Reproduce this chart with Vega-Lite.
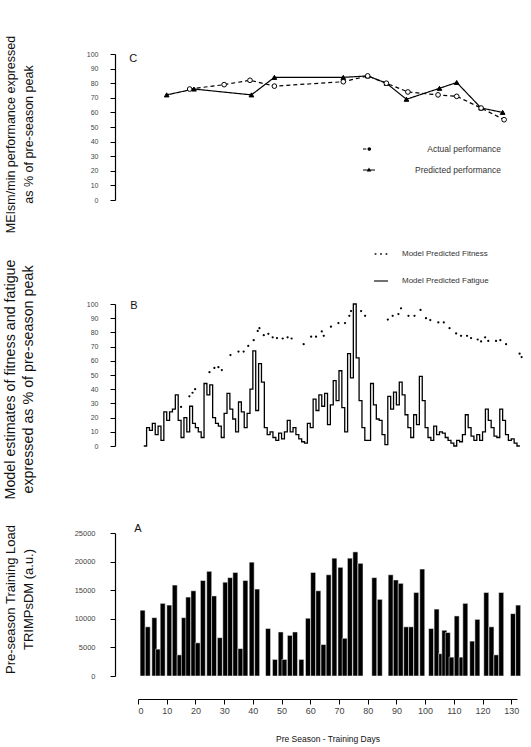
{
  "$schema": "https://vega.github.io/schema/vega-lite/v6.json",
  "background": "white",
  "padding": {"left": 3, "top": 35, "right": 5, "bottom": 5},
  "config": {
    "view": {"stroke": null},
    "font": "Liberation Sans",
    "axis": {"grid": false, "domainColor": "black", "tickColor": "black", "domainWidth": 1.2, "tickWidth": 1, "labelColor": "#444", "titleColor": "#111", "labelFont": "Liberation Sans", "titleFont": "Liberation Sans", "titleFontWeight": "normal", "labelOverlap": false, "labelBound": false},
    "legend": {"labelFont": "Liberation Sans", "labelColor": "#333"},
    "text": {"font": "Liberation Sans", "fontSize": 11, "color": "#111"}
  },
  "datasets": {
    "perf": [
      {"day": 10, "value": 72, "series": "Predicted performance"},
      {"day": 19.5, "value": 76, "series": "Predicted performance"},
      {"day": 39.5, "value": 72, "series": "Predicted performance"},
      {"day": 47.5, "value": 84, "series": "Predicted performance"},
      {"day": 71.5, "value": 84, "series": "Predicted performance"},
      {"day": 80, "value": 85, "series": "Predicted performance"},
      {"day": 86.5, "value": 80, "series": "Predicted performance"},
      {"day": 93.5, "value": 69, "series": "Predicted performance"},
      {"day": 105, "value": 76.5, "series": "Predicted performance"},
      {"day": 111, "value": 80.5, "series": "Predicted performance"},
      {"day": 119.5, "value": 63, "series": "Predicted performance"},
      {"day": 127, "value": 60, "series": "Predicted performance"},
      {"day": 18, "value": 76, "series": "Actual performance"},
      {"day": 30, "value": 79, "series": "Actual performance"},
      {"day": 39, "value": 82, "series": "Actual performance"},
      {"day": 47.5, "value": 78, "series": "Actual performance"},
      {"day": 71.5, "value": 81, "series": "Actual performance"},
      {"day": 80, "value": 85, "series": "Actual performance"},
      {"day": 86.5, "value": 80, "series": "Actual performance"},
      {"day": 94, "value": 74, "series": "Actual performance"},
      {"day": 104.5, "value": 72, "series": "Actual performance"},
      {"day": 111, "value": 71, "series": "Actual performance"},
      {"day": 119.5, "value": 63, "series": "Actual performance"},
      {"day": 127.5, "value": 55, "series": "Actual performance"}
    ],
    "fatigue": [
      {"day": 2, "value": 0}, {"day": 3, "value": 13}, {"day": 4, "value": 11}, {"day": 5, "value": 16}, {"day": 6, "value": 8},
      {"day": 7, "value": 14}, {"day": 8, "value": 4}, {"day": 9, "value": 24}, {"day": 10, "value": 18}, {"day": 11, "value": 24},
      {"day": 12, "value": 26}, {"day": 13, "value": 36}, {"day": 14, "value": 18}, {"day": 15, "value": 6}, {"day": 16, "value": 20},
      {"day": 17, "value": 10}, {"day": 18, "value": 28}, {"day": 19, "value": 16}, {"day": 20, "value": 13}, {"day": 21, "value": 10},
      {"day": 22, "value": 6}, {"day": 23, "value": 44}, {"day": 24, "value": 36}, {"day": 25, "value": 43}, {"day": 26, "value": 20},
      {"day": 27, "value": 16}, {"day": 28, "value": 14}, {"day": 29, "value": 6}, {"day": 30, "value": 23}, {"day": 31, "value": 37},
      {"day": 32, "value": 26}, {"day": 33, "value": 19}, {"day": 34, "value": 10}, {"day": 35, "value": 31}, {"day": 36, "value": 24},
      {"day": 37, "value": 13}, {"day": 38, "value": 23}, {"day": 39, "value": 40}, {"day": 40, "value": 67}, {"day": 41, "value": 25},
      {"day": 42, "value": 58}, {"day": 43, "value": 45}, {"day": 44, "value": 13}, {"day": 45, "value": 8}, {"day": 46, "value": 10},
      {"day": 47, "value": 6}, {"day": 48, "value": 4}, {"day": 49, "value": 9}, {"day": 50, "value": 5}, {"day": 51, "value": 10},
      {"day": 52, "value": 18}, {"day": 53, "value": 10}, {"day": 54, "value": 13}, {"day": 55, "value": 8}, {"day": 56, "value": 5},
      {"day": 57, "value": 3}, {"day": 58, "value": 2}, {"day": 59, "value": 16}, {"day": 60, "value": 13}, {"day": 61, "value": 33},
      {"day": 62, "value": 25}, {"day": 63, "value": 36}, {"day": 64, "value": 28}, {"day": 65, "value": 37}, {"day": 66, "value": 15},
      {"day": 67, "value": 29}, {"day": 68, "value": 46}, {"day": 69, "value": 32}, {"day": 70, "value": 53}, {"day": 71, "value": 27},
      {"day": 72, "value": 10}, {"day": 73, "value": 65}, {"day": 74, "value": 48}, {"day": 75, "value": 100}, {"day": 76, "value": 62},
      {"day": 77, "value": 32}, {"day": 78, "value": 13}, {"day": 79, "value": 4}, {"day": 80, "value": 4}, {"day": 81, "value": 44},
      {"day": 82, "value": 29}, {"day": 83, "value": 19}, {"day": 84, "value": 18}, {"day": 85, "value": 8}, {"day": 86, "value": 1},
      {"day": 87, "value": 35}, {"day": 88, "value": 26}, {"day": 89, "value": 38}, {"day": 90, "value": 29}, {"day": 91, "value": 45},
      {"day": 92, "value": 36}, {"day": 93, "value": 22}, {"day": 94, "value": 13}, {"day": 95, "value": 6}, {"day": 96, "value": 22},
      {"day": 97, "value": 15}, {"day": 98, "value": 49}, {"day": 99, "value": 32}, {"day": 100, "value": 13}, {"day": 101, "value": 6},
      {"day": 102, "value": 4}, {"day": 103, "value": 14}, {"day": 104, "value": 8}, {"day": 105, "value": 10}, {"day": 106, "value": 9},
      {"day": 107, "value": 6}, {"day": 108, "value": 4}, {"day": 109, "value": 2}, {"day": 110, "value": 0}, {"day": 111, "value": 4},
      {"day": 112, "value": 3}, {"day": 113, "value": 8}, {"day": 114, "value": 22}, {"day": 115, "value": 13}, {"day": 116, "value": 7},
      {"day": 117, "value": 4}, {"day": 118, "value": 8}, {"day": 119, "value": 4}, {"day": 120, "value": 10}, {"day": 121, "value": 26},
      {"day": 122, "value": 18}, {"day": 123, "value": 13}, {"day": 124, "value": 7}, {"day": 125, "value": 6}, {"day": 126, "value": 26},
      {"day": 127, "value": 18}, {"day": 128, "value": 8}, {"day": 129, "value": 4}, {"day": 130, "value": 5}, {"day": 131, "value": 2},
      {"day": 132, "value": 0}, {"day": 133, "value": 0}
    ],
    "fitness": [
      {"day": 15, "value": 27.5}, {"day": 17.9, "value": 35}, {"day": 19, "value": 37.5}, {"day": 19.9, "value": 40},
      {"day": 24.9, "value": 52}, {"day": 26.6, "value": 55}, {"day": 28, "value": 55.5}, {"day": 29.2, "value": 53.5},
      {"day": 32.2, "value": 64}, {"day": 35, "value": 66.5}, {"day": 36.8, "value": 66.5}, {"day": 38.4, "value": 70.5},
      {"day": 40.3, "value": 74.5}, {"day": 41.7, "value": 81}, {"day": 42.3, "value": 83}, {"day": 43.8, "value": 78},
      {"day": 45.4, "value": 79}, {"day": 46.9, "value": 76.5}, {"day": 48.4, "value": 76}, {"day": 50.4, "value": 75.7},
      {"day": 52.1, "value": 76.5}, {"day": 53.5, "value": 75.7}, {"day": 57.7, "value": 71.7}, {"day": 60.3, "value": 77},
      {"day": 62, "value": 77}, {"day": 64, "value": 80.7}, {"day": 64.7, "value": 77.6}, {"day": 67.2, "value": 84},
      {"day": 69.8, "value": 86.6}, {"day": 72.1, "value": 86.6}, {"day": 73.6, "value": 91.7}, {"day": 74.2, "value": 95},
      {"day": 77.7, "value": 95}, {"day": 79.1, "value": 91.7}, {"day": 87, "value": 89}, {"day": 88.7, "value": 91.7},
      {"day": 90.7, "value": 92.9}, {"day": 91.6, "value": 97}, {"day": 94.2, "value": 91.7}, {"day": 96.3, "value": 91.7},
      {"day": 98.4, "value": 95.8}, {"day": 100.3, "value": 90}, {"day": 101.8, "value": 88.7}, {"day": 104.6, "value": 87},
      {"day": 106.5, "value": 87}, {"day": 108.5, "value": 83}, {"day": 110.8, "value": 79.3}, {"day": 112.5, "value": 77.6},
      {"day": 114.6, "value": 77.6}, {"day": 116, "value": 76}, {"day": 118.3, "value": 75}, {"day": 119.5, "value": 73.6},
      {"day": 120.9, "value": 76.5}, {"day": 122, "value": 74}, {"day": 124.7, "value": 74}, {"day": 126.2, "value": 74.5},
      {"day": 128.2, "value": 71.7}, {"day": 132.9, "value": 65}, {"day": 133.6, "value": 62.6}
    ],
    "load": [
      {"day": 1.6, "load": 11500}, {"day": 3.4, "load": 8600}, {"day": 5.7, "load": 10200}, {"day": 7.0, "load": 4700},
      {"day": 8.6, "load": 12700}, {"day": 10.9, "load": 12400}, {"day": 12.8, "load": 15900}, {"day": 14.5, "load": 3700},
      {"day": 16.0, "load": 10200}, {"day": 17.5, "load": 13800}, {"day": 19.3, "load": 14900}, {"day": 20.8, "load": 5800},
      {"day": 22.6, "load": 16700}, {"day": 24.8, "load": 18300}, {"day": 26.5, "load": 14000}, {"day": 28.5, "load": 6700},
      {"day": 30.4, "load": 16400}, {"day": 32.1, "load": 17200}, {"day": 33.9, "load": 18100}, {"day": 35.7, "load": 4800},
      {"day": 37.4, "load": 16700}, {"day": 39.6, "load": 19900}, {"day": 41.5, "load": 15200},
      {"day": 45.3, "load": 8300}, {"day": 47.7, "load": 2900}, {"day": 49.7, "load": 7700}, {"day": 51.0, "load": 2900},
      {"day": 52.9, "load": 7100}, {"day": 54.7, "load": 7700}, {"day": 56.9, "load": 2900}, {"day": 59.2, "load": 10100},
      {"day": 61.0, "load": 18100}, {"day": 62.8, "load": 14900}, {"day": 64.6, "load": 5500}, {"day": 66.4, "load": 17700},
      {"day": 68.4, "load": 20600}, {"day": 70.5, "load": 19000}, {"day": 72.0, "load": 6600}, {"day": 73.8, "load": 20600},
      {"day": 75.7, "load": 21700}, {"day": 77.5, "load": 19700}, {"day": 82.3, "load": 17200}, {"day": 84.2, "load": 13400},
      {"day": 88.0, "load": 17700}, {"day": 89.8, "load": 16800}, {"day": 91.5, "load": 16200}, {"day": 93.4, "load": 8600},
      {"day": 95.1, "load": 8600}, {"day": 96.9, "load": 14600}, {"day": 99.0, "load": 18700}, {"day": 102.1, "load": 8300},
      {"day": 104.0, "load": 11700}, {"day": 105.6, "load": 3900}, {"day": 106.7, "load": 8000}, {"day": 107.9, "load": 7600},
      {"day": 109.2, "load": 3300}, {"day": 111.0, "load": 10500}, {"day": 112.7, "load": 3300}, {"day": 114.0, "load": 12700},
      {"day": 116.4, "load": 6100}, {"day": 118.2, "load": 9900}, {"day": 121.3, "load": 14600}, {"day": 123.1, "load": 8600},
      {"day": 124.8, "load": 3700}, {"day": 126.5, "load": 14600}, {"day": 130.6, "load": 10900}, {"day": 132.4, "load": 12400}
    ]
  },
  "bounds": "flush",
  "spacing": 104,
  "vconcat": [
    {
      "width": 379,
      "height": 146,
      "data": {"name": "perf"},
      "layer": [
        {
          "mark": {"type": "line", "color": "black", "strokeWidth": 1.2},
          "encoding": {
            "x": {"field": "day", "type": "quantitative", "scale": {"domain": [0, 132], "nice": false}, "axis": null},
            "y": {"field": "value", "type": "quantitative", "scale": {"domain": [0, 100], "nice": false},
              "axis": {"offset": 23, "values": [0, 10, 20, 30, 40, 50, 60, 70, 80, 90, 100], "tickCount": 50, "labelOverlap": false, "tickSize": 5, "labelFontSize": 7, "labelPadding": 12,
                "title": ["MEIsm/min performance expressed", "as % of pre-season peak"], "titleFontSize": 12.5, "titleLineHeight": 18,
                "titleAngle": -90, "titleX": -105, "titleY": 80, "titleAlign": "center", "titleBaseline": "middle", "titleLimit": 400}},
            "strokeDash": {"field": "series", "type": "nominal", "scale": {"domain": ["Actual performance", "Predicted performance"], "range": [[4, 3], [1, 0]]}, "legend": null}
          }
        },
        {
          "mark": {"type": "point", "filled": true, "stroke": "black", "strokeWidth": 1, "size": 22, "opacity": 1},
          "encoding": {
            "x": {"field": "day", "type": "quantitative", "scale": {"domain": [0, 132], "nice": false}},
            "y": {"field": "value", "type": "quantitative", "scale": {"domain": [0, 100], "nice": false}},
            "shape": {"field": "series", "type": "nominal", "scale": {"domain": ["Actual performance", "Predicted performance"], "range": ["circle", "triangle-up"]}, "legend": null},
            "fill": {"field": "series", "type": "nominal", "scale": {"domain": ["Actual performance", "Predicted performance"], "range": ["white", "black"]}, "legend": null}
          }
        },
        {
          "transform": [{"filter": "datum.day < 0"}],
          "mark": {"type": "point", "filled": true, "color": "black"},
          "encoding": {
            "x": {"field": "day", "type": "quantitative", "scale": {"domain": [0, 132], "nice": false}},
            "y": {"field": "value", "type": "quantitative", "scale": {"domain": [0, 100], "nice": false}},
            "shape": {"field": "series", "type": "nominal",
              "scale": {"domain": ["Actual performance", "Predicted performance"],
                "range": ["M-1,-0.07H-0.45V0.07H-1ZM-0.25,0A0.3,0.3,0,1,1,0.35,0A0.3,0.3,0,1,1,-0.25,0Z", "M-1,-0.07H1V0.07H-1ZM0,-0.4L0.38,0.25L-0.38,0.25Z"]},
              "legend": {"orient": "none", "legendX": 225, "legendY": 89, "title": null, "symbolSize": 144,
                "symbolFillColor": "black", "symbolStrokeWidth": 0, "symbolOpacity": 1,
                "labelFontSize": 8.5, "labelAlign": "right", "labelOffset": 126, "rowPadding": 10, "labelLimit": 300,
                "encode": {"symbols": {"update": {"fill": {"value": "black"}, "opacity": {"value": 1}}}}}}
          }
        },
        {
          "transform": [{"filter": "datum.day == 10"}],
          "mark": {"type": "text", "align": "center", "baseline": "middle"},
          "encoding": {
            "x": {"datum": -1.7, "type": "quantitative", "scale": {"domain": [0, 132], "nice": false}},
            "y": {"datum": 96.5, "type": "quantitative", "scale": {"domain": [0, 100], "nice": false}},
            "text": {"value": "C"}
          }
        }
      ],
      "resolve": {"scale": {"shape": "independent"}}
    },
    {
      "bounds": "flush",
      "spacing": 87,
      "vconcat": [
        {
          "width": 379,
          "height": 142,
          "layer": [
            {
              "data": {"name": "fatigue"},
              "mark": {"type": "line", "interpolate": "step-after", "color": "black", "strokeWidth": 1.3},
              "encoding": {
                "x": {"field": "day", "type": "quantitative", "scale": {"domain": [0, 132], "nice": false}, "axis": null},
                "y": {"field": "value", "type": "quantitative", "scale": {"domain": [0, 100], "nice": false},
                  "axis": {"offset": 23, "values": [0, 10, 20, 30, 40, 50, 60, 70, 80, 90, 100], "tickCount": 50, "labelOverlap": false, "tickSize": 5, "labelFontSize": 7, "labelPadding": 12,
                    "title": ["Model estimates of fitness and fatigue", "expressed as % of pre-season peak"], "titleFontSize": 14.3, "titleLineHeight": 18,
                    "titleAngle": -90, "titleX": -105, "titleY": 75, "titleAlign": "center", "titleBaseline": "middle", "titleLimit": 400}}
              }
            },
            {
              "data": {"name": "fitness"},
              "mark": {"type": "point", "filled": true, "color": "black", "size": 5, "opacity": 1},
              "encoding": {
                "x": {"field": "day", "type": "quantitative", "scale": {"domain": [0, 132], "nice": false}},
                "y": {"field": "value", "type": "quantitative", "scale": {"domain": [0, 100], "nice": false}}
              }
            },
            {
              "data": {"name": "fitness"},
              "transform": [{"filter": "datum.day < 0"}],
              "mark": {"type": "point", "filled": true, "color": "black"},
              "encoding": {
                "x": {"field": "day", "type": "quantitative", "scale": {"domain": [0, 132], "nice": false}},
                "y": {"field": "value", "type": "quantitative", "scale": {"domain": [0, 100], "nice": false}},
                "shape": {"field": "series", "type": "nominal",
                  "scale": {"domain": ["Model Predicted Fitness", "Model Predicted Fatigue"],
                    "range": ["M-0.9,-0.12h0.24v0.24h-0.24ZM-0.12,-0.12h0.24v0.24h-0.24ZM0.66,-0.12h0.24v0.24h-0.24Z", "M-1,-0.08H1V0.08H-1Z"]},
                  "legend": {"orient": "none", "legendX": 236, "legendY": 193, "title": null, "symbolSize": 196,
                    "symbolFillColor": "black", "symbolStrokeWidth": 0, "symbolOpacity": 1,
                    "labelFontSize": 8, "labelOffset": 14, "rowPadding": 16, "labelLimit": 300,
                    "encode": {"symbols": {"update": {"fill": {"value": "black"}, "opacity": {"value": 1}}}}}}
              }
            },
            {
              "data": {"name": "fitness"},
              "transform": [{"filter": "datum.day == 15"}],
              "mark": {"type": "text", "align": "center", "baseline": "middle"},
              "encoding": {
                "x": {"datum": -1.4, "type": "quantitative", "scale": {"domain": [0, 132], "nice": false}},
                "y": {"datum": 98.5, "type": "quantitative", "scale": {"domain": [0, 100], "nice": false}},
                "text": {"value": "B"}
              }
            }
          ]
        },
        {
          "width": 379,
          "height": 143,
          "data": {"name": "load"},
          "layer": [
            {
              "mark": {"type": "bar", "color": "black", "size": 5, "stroke": "white", "strokeWidth": 0.5},
              "encoding": {
                "x": {"field": "day", "type": "quantitative", "scale": {"domain": [0, 132], "nice": false, "padding": 0},
                  "axis": {"offset": 23, "values": [0, 10, 20, 30, 40, 50, 60, 70, 80, 90, 100, 110, 120, 130], "tickCount": 50, "labelOverlap": false, "tickSize": 5, "labelFontSize": 9, "labelPadding": 2,
                    "title": "Pre Season - Training Days", "titleFontSize": 8.5, "titlePadding": 19}},
                "y": {"field": "load", "type": "quantitative", "scale": {"domain": [0, 25000], "nice": false, "padding": 0},
                  "axis": {"offset": 23, "values": [0, 5000, 10000, 15000, 20000, 25000], "tickCount": 50, "labelOverlap": false, "format": "d", "tickSize": 5, "labelFontSize": 7.5, "labelPadding": 15,
                    "title": ["Pre-season Training Load", "TRIMPsDM (a.u.)"], "titleFontSize": 13, "titleLineHeight": 18,
                    "titleAngle": -90, "titleX": -105, "titleY": 66, "titleAlign": "center", "titleBaseline": "middle", "titleLimit": 400}}
              }
            },
            {
              "transform": [{"filter": "datum.day == 1.6"}],
              "mark": {"type": "text", "align": "center", "baseline": "middle"},
              "encoding": {
                "x": {"datum": 0, "type": "quantitative", "scale": {"domain": [0, 132], "nice": false, "padding": 0}},
                "y": {"datum": 25700, "type": "quantitative", "scale": {"domain": [0, 25000], "nice": false, "padding": 0}},
                "text": {"value": "A"}
              }
            }
          ]
        }
      ]
    }
  ]
}
